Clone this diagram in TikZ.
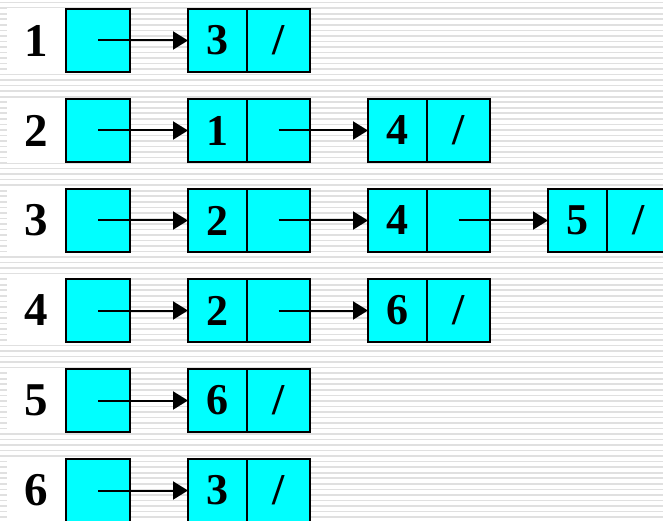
\documentclass[tikz,border=0pt]{standalone}
\usepackage{fontspec}
\setmainfont{Liberation Serif}
\usetikzlibrary{arrows.meta, positioning}
\definecolor{cellcyan}{RGB}{0, 255, 255}
\definecolor{stripegray}{RGB}{224, 224, 224}

\begin{document}
\begin{tikzpicture}[
    x=1pt, y=-1pt,
    node distance=58pt,
    vert/.style={rectangle, fill=white, minimum width=59pt, minimum height=65pt, inner sep=0pt, outer sep=0pt, font=\fontsize{47}{47}\selectfont\bfseries},
    head/.style={rectangle, draw, line width=1.8pt, fill=cellcyan, minimum width=64pt, minimum height=63pt, inner sep=0pt, outer sep=0pt, font=\fontsize{44}{44}\selectfont\bfseries},
    datacell/.style={head, minimum width=59pt},
    ptrcell/.style={head, minimum width=63pt},
    arrow/.style={-{Triangle[length=15pt, width=18pt]}, line width=2pt}
]
\useasboundingbox (0,0) rectangle (663,521);

% Striped background
\fill[white] (0,0) rectangle (663,521);
\foreach \k in {0,...,94}
    \draw[stripegray, line width=1.6pt] (0,2.7+5.53*\k) -- (663,2.7+5.53*\k);

% Vertex 1
\node[vert] (v1) at (36.5,40.5) {1};
\node[head, right=0pt of v1] (h1) {};
\node[datacell, right=of h1] (d11) {3};
\node[ptrcell, right=0pt of d11] (p11) {/};

% Vertex 2
\node[vert] (v2) at (36.5,130.5) {2};
\node[head, right=0pt of v2] (h2) {};
\node[datacell, right=of h2] (d21) {1};
\node[ptrcell, right=0pt of d21] (p21) {};
\node[datacell, right=of p21] (d22) {4};
\node[ptrcell, right=0pt of d22] (p22) {/};

% Vertex 3
\node[vert] (v3) at (36.5,220.5) {3};
\node[head, right=0pt of v3] (h3) {};
\node[datacell, right=of h3] (d31) {2};
\node[ptrcell, right=0pt of d31] (p31) {};
\node[datacell, right=of p31] (d32) {4};
\node[ptrcell, right=0pt of d32] (p32) {};
\node[datacell, right=of p32] (d33) {5};
\node[ptrcell, right=0pt of d33] (p33) {/};

% Vertex 4
\node[vert] (v4) at (36.5,310.5) {4};
\node[head, right=0pt of v4] (h4) {};
\node[datacell, right=of h4] (d41) {2};
\node[ptrcell, right=0pt of d41] (p41) {};
\node[datacell, right=of p41] (d42) {6};
\node[ptrcell, right=0pt of d42] (p42) {/};

% Vertex 5
\node[vert] (v5) at (36.5,400.5) {5};
\node[head, right=0pt of v5] (h5) {};
\node[datacell, right=of h5] (d51) {6};
\node[ptrcell, right=0pt of d51] (p51) {/};

% Vertex 6
\node[vert] (v6) at (36.5,490.5) {6};
\node[head, right=0pt of v6] (h6) {};
\node[datacell, right=of h6] (d61) {3};
\node[ptrcell, right=0pt of d61] (p61) {/};

% Links
\draw[arrow] (h1.center) -- (d11.west);
\draw[arrow] (h2.center) -- (d21.west);
\draw[arrow] (p21.center) -- (d22.west);
\draw[arrow] (h3.center) -- (d31.west);
\draw[arrow] (p31.center) -- (d32.west);
\draw[arrow] (p32.center) -- (d33.west);
\draw[arrow] (h4.center) -- (d41.west);
\draw[arrow] (p41.center) -- (d42.west);
\draw[arrow] (h5.center) -- (d51.west);
\draw[arrow] (h6.center) -- (d61.west);

\end{tikzpicture}
\end{document}
